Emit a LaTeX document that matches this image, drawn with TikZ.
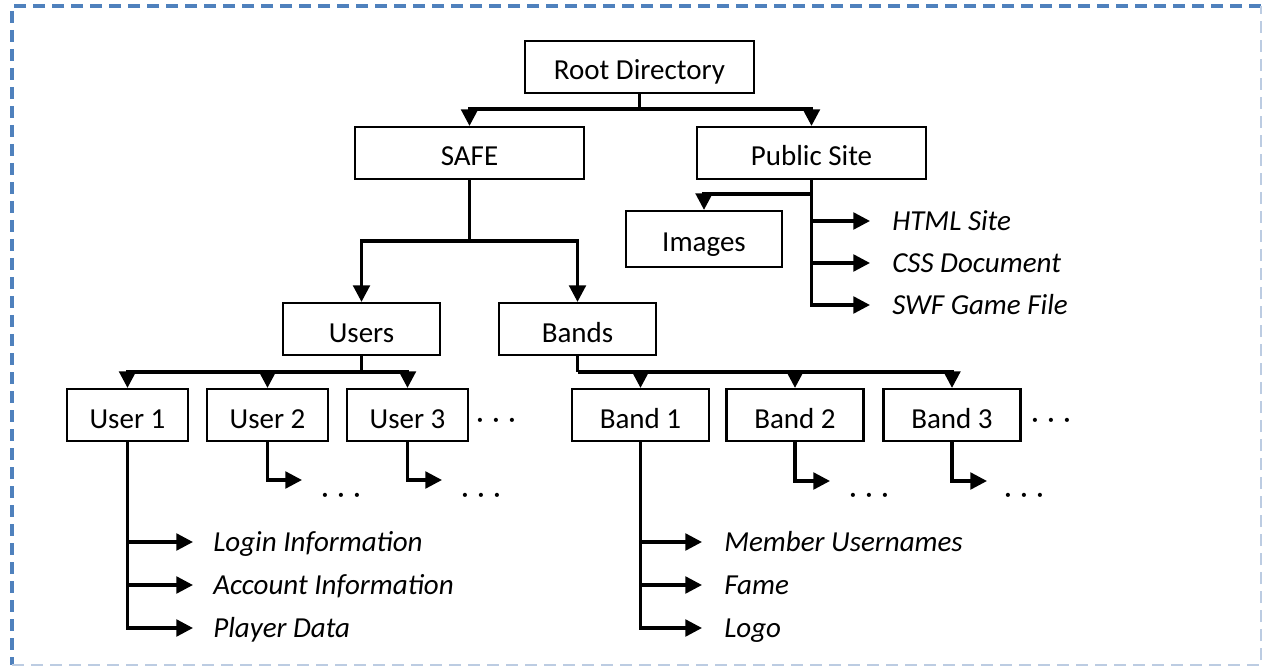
\documentclass[tikz,border=0pt]{standalone}
\usepackage{fontspec}
\setmainfont{Carlito}
\usetikzlibrary{arrows.meta}
\definecolor{frameblue}{RGB}{79,129,189}
\definecolor{framepale}{RGB}{188,204,226}
\begin{document}
\begin{tikzpicture}[x=0.75pt,y=-0.75pt,
  every node/.style={font=\fontsize{21.75}{26}\selectfont},
  box/.style={draw, line width=1.6pt, inner sep=0pt, minimum height=39pt,
    text height=19.5pt, text depth=0pt},
  conn/.style={line width=2.5pt, -{Triangle[length=12.5pt,width=12.5pt]}},
  link/.style={line width=2.5pt},
  leaf/.style={anchor=base west, inner sep=0pt,
    font=\fontsize{21.75}{26}\selectfont\itshape},
  more/.style={anchor=base, inner sep=0pt}]
\useasboundingbox (0,0) rectangle (1262,666);

% dashed frame
\draw[frameblue, line width=2.4pt, dash pattern=on 9pt off 5.25pt]
  (1261,6) -- (12,6) -- (12,665);
\draw[framepale, line width=1.2pt, dash pattern=on 9pt off 5.25pt]
  (12,665) -- (1261,665) -- (1261,6);

% directory boxes
\node[box, minimum width=171.75pt] (root) at (639.5,67) {Root Directory};
\node[box, minimum width=171.75pt] (safe) at (469.5,153) {SAFE};
\node[box, minimum width=171.75pt] (pub) at (811.5,153) {Public Site};
\node[box, minimum width=117pt, minimum height=42pt] (img) at (704,239) {Images};
\node[box, minimum width=117.75pt] (users) at (361.5,329) {Users};
\node[box, minimum width=117.75pt] (bands) at (577.5,329) {Bands};
\node[box, minimum width=90.75pt] (u1) at (127.5,415) {User 1};
\node[box, minimum width=90.75pt] (u2) at (267.5,415) {User 2};
\node[box, minimum width=90.75pt] (u3) at (407.5,415) {User 3};
\node[box, minimum width=102.75pt] (b1) at (640.5,415) {Band 1};
\node[box, minimum width=102.75pt] (b2) at (795,415) {Band 2};
\node[box, minimum width=102.75pt] (b3) at (952,415) {Band 3};

% ellipses
\newcommand{\dotrow}{·\hspace{6.5pt}·\hspace{6.5pt}·}
\node[more] (umore) at (496,428) {\dotrow};
\node[more] (bmore) at (1051,428) {\dotrow};
\node[more] (u2more) at (341,503) {\dotrow};
\node[more] (u3more) at (481,503) {\dotrow};
\node[more] (b2more) at (869,503) {\dotrow};
\node[more] (b3more) at (1024,503) {\dotrow};

% file entries
\node[leaf] (html) at (892,230.5) {HTML Site};
\node[leaf] (css) at (892,272.5) {CSS Document};
\node[leaf] (swf) at (892,314.5) {SWF Game File};
\node[leaf] (login) at (213,551.5) {Login Information};
\node[leaf] (acct) at (213,594.5) {Account Information};
\node[leaf] (player) at (213,637.5) {Player Data};
\node[leaf] (member) at (724,551.5) {Member Usernames};
\node[leaf] (fame) at (724,594.5) {Fame};
\node[leaf] (logo) at (724,637.5) {Logo};

% bus points
\coordinate (rbus) at (639.5,109);
\coordinate (sbus) at (469.5,241);
\coordinate (pbus) at (811.5,194);
\coordinate (ubus) at (361.5,372);
\coordinate (bbus) at (577.5,372);
\coordinate (u2end) at (302,480);
\coordinate (u3end) at (442,480);
\coordinate (b2end) at (830,481);
\coordinate (b3end) at (987,481);

% root
\draw[link] (root.south) -- (rbus);
\draw[conn] (rbus) -| (safe.north);
\draw[conn] (rbus) -| (pub.north);

% public site
\draw[link] (pub.south) -- (pbus);
\draw[conn] (pbus) -| (img.north);
\draw[conn] (pub.south) |- ([shift={(-22,-9.5)}]html.base west);
\draw[conn] (pub.south) |- ([shift={(-22,-9.5)}]css.base west);
\draw[conn] (pub.south) |- ([shift={(-22,-9.5)}]swf.base west);

% SAFE
\draw[link] (safe.south) -- (sbus);
\draw[conn] (sbus) -| (users.north);
\draw[conn] (sbus) -| (bands.north);

% users
\draw[link] (users.south) -- (ubus);
\draw[conn] (ubus) -| (u1.north);
\draw[conn] (ubus) -| (u2.north);
\draw[conn] (ubus) -| (u3.north);
\draw[conn] (u2.south) |- (u2end);
\draw[conn] (u3.south) |- (u3end);
\draw[conn] (u1.south) |- ([shift={(-20,-9.5)}]login.base west);
\draw[conn] (u1.south) |- ([shift={(-20,-9.5)}]acct.base west);
\draw[conn] (u1.south) |- ([shift={(-20,-9.5)}]player.base west);

% bands
\draw[link] (bands.south) -- (bbus);
\draw[conn] (bbus) -| (b1.north);
\draw[conn] (bbus) -| (b2.north);
\draw[conn] (bbus) -| (b3.north);
\draw[conn] (b2.south) |- (b2end);
\draw[conn] (b3.south) |- (b3end);
\draw[conn] (b1.south) |- ([shift={(-22,-9.5)}]member.base west);
\draw[conn] (b1.south) |- ([shift={(-22,-9.5)}]fame.base west);
\draw[conn] (b1.south) |- ([shift={(-22,-9.5)}]logo.base west);
\end{tikzpicture}
\end{document}
